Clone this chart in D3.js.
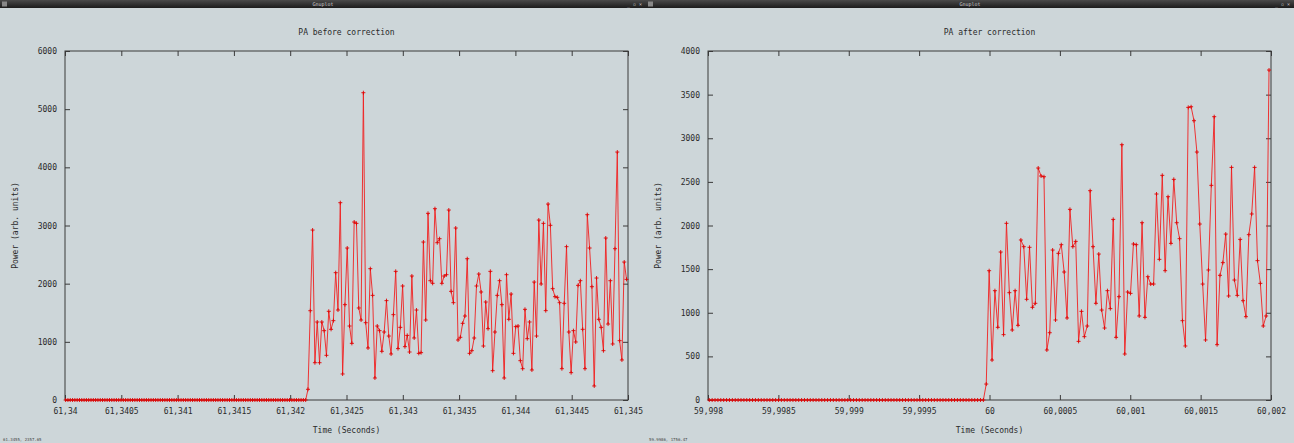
<!DOCTYPE html>
<html>
<head>
<meta charset="utf-8">
<script src="https://cdn.jsdelivr.net/npm/d3@7"></script>
<style>
  html, body { margin: 0; padding: 0; background: #cdd6d9; }
  svg { display: block; }
</style>
</head>
<body>
<svg id="chart" width="1294" height="443"></svg>
<script>
// both captures are sampled at the same rate
const sampleStep = 0.0000205;
const leftStart = 61.3400055;
const rightStart = 59.998009;

const leftPower = [
  0, 0, 0, 0, 0, 0, 0, 0, 0, 0, 0, 0, 0, 0, 0,
  0, 0, 0, 0, 0, 0, 0, 0, 0, 0, 0, 0, 0, 0, 0,
  0, 0, 0, 0, 0, 0, 0, 0, 0, 0, 0, 0, 0, 0, 0,
  0, 0, 0, 0, 0, 0, 0, 0, 0, 0, 0, 0, 0, 0, 0,
  0, 0, 0, 0, 0, 0, 0, 0, 0, 0, 0, 0, 0, 0, 0,
  0, 0, 0, 0, 0, 0, 0, 0, 0, 0, 0, 0, 0, 0, 0,
  0, 0, 0, 0, 0, 0, 0, 0, 0, 0, 0, 0, 0, 0, 0,
  184, 1535, 2922, 641, 1341, 641, 1341, 1192, 768, 1525, 1215, 1364, 2189, 1547, 3392,
  447, 1639, 2613, 1272, 974, 3060, 3037, 1582, 1375, 5283, 1329, 894, 2258, 1799, 378,
  1272, 1192, 837, 1169, 1708, 1100, 791, 1467, 2212, 883, 1249, 1960, 917, 1111, 825,
  2132, 1066, 1547, 802, 814, 2716, 1375, 3209, 2051, 2006, 3289, 2704, 2773, 2006, 2132,
  2154, 3266, 1868, 1673, 2957, 1031, 1078, 1318, 1444,
  2429, 802, 848, 1066, 1960, 2166, 1857, 928, 1685, 1226, 2212, 504, 1169, 1799, 2051,
  1639, 378, 2154, 1387, 1822, 802, 1261, 1272, 676, 538, 1559, 1054, 1341, 516, 2028,
  1100, 3094, 1994, 3037, 1536, 3369, 3003, 1914, 1776, 1765, 1673, 538, 1662, 2636, 1169,
  470, 1192, 997, 1971, 2051, 1215, 538, 3186, 2613, 1948, 241, 2097, 1387, 1249, 848,
  2785, 1306, 2051, 963, 2601, 4263, 1020, 688, 2372, 2074
];

const rightPower = [
  0, 0, 0, 0, 0, 0, 0, 0, 0, 0, 0, 0, 0, 0, 0, 0,
  0, 0, 0, 0, 0, 0, 0, 0, 0, 0, 0, 0, 0, 0, 0, 0,
  0, 0, 0, 0, 0, 0, 0, 0, 0, 0, 0, 0, 0, 0, 0, 0,
  0, 0, 0, 0, 0, 0, 0, 0, 0, 0, 0, 0, 0, 0, 0, 0,
  0, 0, 0, 0, 0, 0, 0, 0, 0, 0, 0, 0, 0, 0, 0, 0,
  0, 0, 0, 0, 0, 0, 0, 0, 0, 0, 0, 0, 0, 0, 0, 0,
  183, 1482, 458, 1253, 833, 1696, 749, 2025, 1230, 802, 1253, 856, 1834, 1757, 1154,
  1750, 1062, 1108, 2659, 2567, 2559, 573, 771, 1719, 917, 1681, 1780, 1467, 940, 2185,
  1757, 1818, 672, 1016, 726, 848, 2399, 1757, 1108, 1673, 1031, 825, 1253, 1047, 2070,
  718, 1184, 2926, 527, 1238,
  1222, 1788, 1780, 963, 2032, 947, 1413, 1329, 1329, 2361, 1612, 2575, 1482, 2330, 1795,
  2529, 2032, 1849, 909, 619, 3354, 3361, 3201, 2842, 2017, 1329, 688, 1490, 2460, 3247,
  634, 1429, 1574, 1902, 1192, 2666, 1375, 1199, 1841, 1138, 955, 1895, 2132, 2666, 1597,
  1337, 848, 963, 3782
];

const leftXTicks = [61.34, 61.3405, 61.341, 61.3415, 61.342, 61.3425, 61.343, 61.3435, 61.344, 61.3445, 61.345];
const leftXLabels = ['61,34', '61,3405', '61,341', '61,3415', '61,342', '61,3425', '61,343', '61,3435', '61,344', '61,3445', '61,345'];
const leftYTicks = [0, 1000, 2000, 3000, 4000, 5000, 6000];

const rightXTicks = [59.998, 59.9985, 59.999, 59.9995, 60, 60.0005, 60.001, 60.0015, 60.002];
const rightXLabels = ['59,998', '59,9985', '59,999', '59,9995', '60', '60,0005', '60,001', '60,0015', '60,002'];
const rightYTicks = [0, 500, 1000, 1500, 2000, 2500, 3000, 3500, 4000];

const font = '"DejaVu Sans Mono", "Liberation Mono", monospace';
const ink = '#2a2a2a';

const svg = d3.select('#chart');

const defs = svg.append('defs');
const grad = defs.append('linearGradient').attr('id', 'bar').attr('x1', 0).attr('y1', 0).attr('x2', 0).attr('y2', 1);
grad.append('stop').attr('offset', '0%').attr('stop-color', '#4a4a4a');
grad.append('stop').attr('offset', '100%').attr('stop-color', '#1c1c1c');

function drawWindow(p) {
    const win = svg.append('g').attr('transform', `translate(${p.x0}, 0)`);

    win.append('rect')
        .attr('width', p.w).attr('height', 443)
        .attr('fill', '#cdd6d9');

    // title bar of the gnuplot window
    win.append('rect')
        .attr('width', p.w).attr('height', 8)
        .attr('fill', 'url(#bar)');
    win.append('rect')
        .attr('x', 2).attr('y', 1.5).attr('width', 5).attr('height', 5)
        .attr('fill', '#888');
    win.append('text')
        .attr('x', p.w / 2).attr('y', 6)
        .attr('text-anchor', 'middle')
        .style('font', `5px ${font}`)
        .attr('fill', '#cfcfcf')
        .text('Gnuplot');
    win.append('text')
        .attr('x', p.w - 4).attr('y', 6)
        .attr('text-anchor', 'end')
        .style('font', `5px ${font}`)
        .attr('fill', '#cfcfcf')
        .text('_ ▫ ×');

    const x = d3.scaleLinear().domain(p.xDomain).range([p.left, p.right]);
    const y = d3.scaleLinear().domain(p.yDomain).range([400, 51]);

    const bottom = win.append('g')
        .attr('transform', 'translate(0, 400)')
        .call(d3.axisBottom(x).tickValues(p.xTicks)
            .tickFormat((d, i) => p.xLabels[i])
            .tickSizeInner(-5).tickSizeOuter(0).tickPadding(8));
    win.append('g')
        .attr('transform', 'translate(0, 51)')
        .call(d3.axisTop(x).tickValues(p.xTicks).tickFormat('')
            .tickSizeInner(-5).tickSizeOuter(0));
    const leftAxis = win.append('g')
        .attr('transform', `translate(${p.left}, 0)`)
        .call(d3.axisLeft(y).tickValues(p.yTicks).tickFormat(d3.format('d'))
            .tickSizeInner(-5).tickSizeOuter(0).tickPadding(8));
    win.append('g')
        .attr('transform', `translate(${p.right}, 0)`)
        .call(d3.axisRight(y).tickValues(p.yTicks).tickFormat('')
            .tickSizeInner(-5).tickSizeOuter(0));

    win.selectAll('.domain').remove();
    win.selectAll('.tick line').attr('stroke', '#3a3a3a');
    win.selectAll('.tick text')
        .style('font', `8px ${font}`)
        .attr('fill', ink);

    win.append('rect')
        .attr('x', p.left).attr('y', 51)
        .attr('width', p.right - p.left).attr('height', 349)
        .attr('fill', 'none')
        .attr('stroke', '#3a3a3a')
        .attr('stroke-width', 1);

    const pts = p.values.map((v, i) => ({ t: p.start + i * sampleStep, v: v }));

    win.append('path')
        .datum(pts)
        .attr('fill', 'none')
        .attr('stroke', '#f02020')
        .attr('stroke-width', 0.9)
        .attr('d', d3.line().x((d) => x(d.t)).y((d) => y(d.v)));

    win.append('g')
        .selectAll('path')
        .data(pts)
        .enter()
        .append('path')
        .attr('transform', (d) => `translate(${x(d.t)}, ${y(d.v)})`)
        .attr('d', 'M-2,0H2M0,-2V2')
        .attr('stroke', '#e00000')
        .attr('stroke-width', 0.9);

    win.append('text')
        .attr('x', (p.left + p.right) / 2).attr('y', 35)
        .attr('text-anchor', 'middle')
        .style('font', `8px ${font}`)
        .attr('fill', ink)
        .text(p.title);

    win.append('text')
        .attr('x', (p.left + p.right) / 2).attr('y', 433)
        .attr('text-anchor', 'middle')
        .style('font', `8px ${font}`)
        .attr('fill', ink)
        .text('Time (Seconds)');

    win.append('text')
        .attr('transform', `translate(${p.left - 50}, ${(51 + 400) / 2}) rotate(-90)`)
        .attr('text-anchor', 'middle')
        .attr('dy', '0.35em')
        .style('font', `8px ${font}`)
        .attr('fill', ink)
        .text('Power (arb. units)');

    win.append('text')
        .attr('x', 3).attr('y', 441)
        .style('font', `4px ${font}`)
        .attr('fill', '#444')
        .text(p.status);
}

drawWindow({
    x0: 0, w: 646, left: 65, right: 628,
    title: 'PA before correction',
    xDomain: [61.34, 61.345], yDomain: [0, 6000],
    xTicks: leftXTicks, xLabels: leftXLabels, yTicks: leftYTicks,
    values: leftPower, start: leftStart,
    status: '61.3455,  2357.65'
});

drawWindow({
    x0: 646, w: 648, left: 62, right: 625,
    title: 'PA after correction',
    xDomain: [59.998, 60.002], yDomain: [0, 4000],
    xTicks: rightXTicks, xLabels: rightXLabels, yTicks: rightYTicks,
    values: rightPower, start: rightStart,
    status: '59.9986,  1756.47'
});
</script>
</body>
</html>
